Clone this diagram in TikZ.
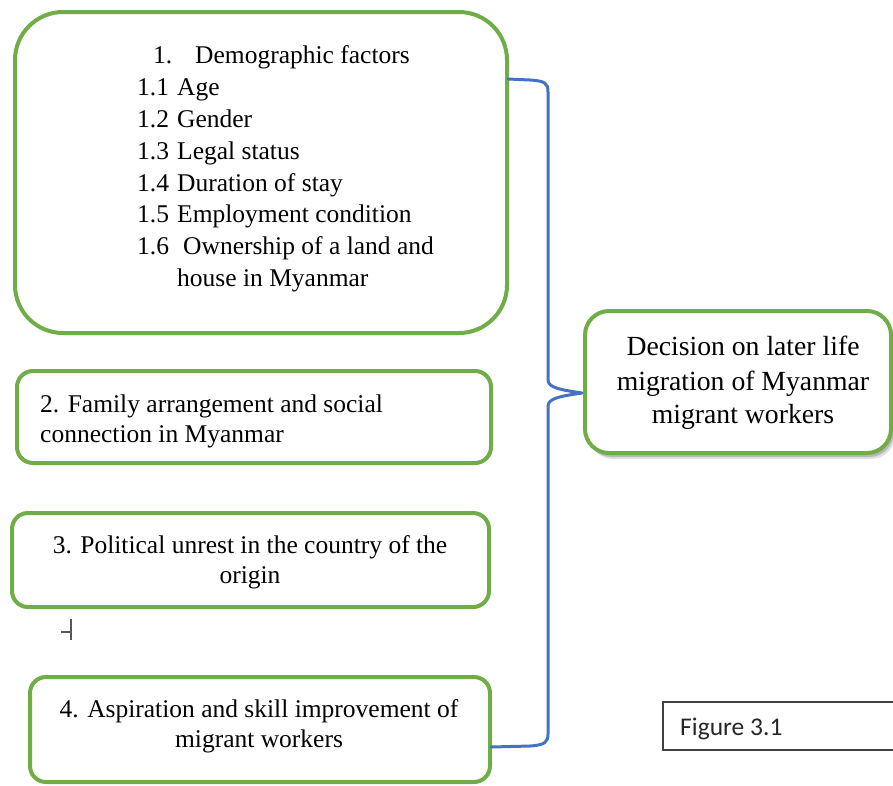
\documentclass[tikz,border=0pt]{standalone}
\usepackage{fontspec}
\usepackage{graphicx}
\newfontfamily\timesfont{Liberation Serif}
\newfontfamily\calibrifont{Carlito}
\usetikzlibrary{shadows}
\definecolor{boxgreen}{HTML}{70AD47}
\definecolor{braceblue}{HTML}{4472C4}
\newcommand{\bigline}[1]{\scalebox{1.086}{#1}}
\begin{document}
\begin{tikzpicture}[x=1pt,y=-1pt,
  box/.style={draw=boxgreen, line width=4pt, fill=white, rounded corners=16pt, inner sep=0pt},
  ltxt/.style={inner sep=0pt, anchor=base west, font=\timesfont\fontsize{25.5pt}{32pt}\selectfont},
  ctxt/.style={inner sep=0pt, anchor=base, font=\timesfont\fontsize{25.5pt}{32pt}\selectfont},
  bracepath/.style={draw=braceblue, line width=3pt, line cap=round, line join=round},
  cursor/.style={draw=black!65, line width=1.5pt}
]
\useasboundingbox (0,0) rectangle (893,785);

% boxes
\node[box, rounded corners=48pt, minimum width=492pt, minimum height=321pt] (b1) at (261,172.5) {};
\node[box, minimum width=474pt, minimum height=92pt] (b2) at (254,417) {};
\node[box, minimum width=477pt, minimum height=94pt] (b3) at (250.5,560) {};
\node[box, minimum width=460pt, minimum height=105pt] (b4) at (260,729.5) {};
\node[box, rounded corners=24pt, minimum width=306pt, minimum height=142pt,
      general shadow={shadow xshift=4pt, shadow yshift=-6pt, fill=black!12},
      general shadow={shadow xshift=2.5pt, shadow yshift=-4pt, fill=black!28}] (rb) at (738,382) {};
\node[draw=black!75, line width=1.2pt, minimum width=240pt, minimum height=48pt, inner sep=0pt] (fig) at (783,726) {};

% brace
\coordinate (btop) at (508,79);
\coordinate (tip) at (582,393);
\coordinate (bbot) at (491,747);
\draw[bracepath] (btop) -- (530,80) .. controls (545,81) and (548,83) .. (548,92)
  -- (548,380) .. controls (548,388) and (562,390) .. (tip)
  .. controls (562,396) and (548,398) .. (548,406)
  -- (548,734) .. controls (548,742) and (545,745) .. (530,746) -- (bbot);

% box 1 text
\node[ltxt] (t10) at (153,63) {\makebox[42pt][l]{1.}Demographic factors};
\node[ltxt] (t11) at (137,95) {\makebox[40pt][l]{1.1}Age};
\node[ltxt] (t12) at (137,127) {\makebox[40pt][l]{1.2}Gender};
\node[ltxt] (t13) at (137,159) {\makebox[40pt][l]{1.3}Legal status};
\node[ltxt] (t14) at (137,191) {\makebox[40pt][l]{1.4}Duration of stay};
\node[ltxt] (t15) at (137,222) {\makebox[40pt][l]{1.5}Employment condition};
\node[ltxt] (t16) at (137,254) {\makebox[46pt][l]{1.6}Ownership of a land and};
\node[ltxt] (t16b) at (177,286) {house in Myanmar};

% box 2 text
\node[ltxt] (t2a) at (40,412) {2. Family arrangement and social};
\node[ltxt] (t2b) at (40,442) {connection in Myanmar};

% box 3 text
\node[ctxt] (t3a) at (250,553) {3. Political unrest in the country of the};
\node[ctxt] (t3b) at (250,583) {origin};

% box 4 text
\node[ctxt] (t4a) at (259,717) {4. Aspiration and skill improvement of};
\node[ctxt] (t4b) at (259,747) {migrant workers};

% right box text
\node[ctxt] (r1) at (743,355) {\bigline{Decision on later life}};
\node[ctxt] (r2) at (743,390) {\bigline{migration of Myanmar}};
\node[ctxt] (r3) at (743,423) {\bigline{migrant workers}};

% figure label
\node[inner sep=0pt, anchor=base west, font=\calibrifont\fontsize{25.5pt}{30pt}\selectfont, text=black!85] (figt) at (680,735) {Figure 3.1};

% cursor mark
\draw[cursor] (71,619) -- (71,640);
\draw[cursor] (61,632) -- (71,632);
\end{tikzpicture}
\end{document}
